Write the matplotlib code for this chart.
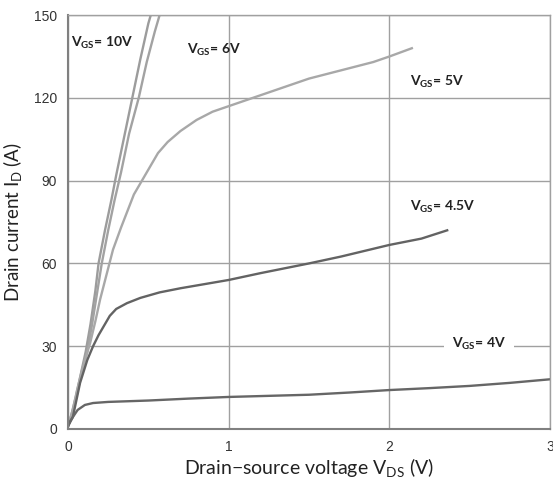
import matplotlib
matplotlib.use("Agg")
import matplotlib.pyplot as plt

plt.rcParams['font.family'] = ['Lato', 'DejaVu Sans']
plt.rcParams['mathtext.fontset'] = 'custom'
plt.rcParams['mathtext.rm'] = 'Lato'

# output characteristics
vds_10 = [0, 0.02, 0.05, 0.08, 0.11, 0.14, 0.17, 0.19, 0.23, 0.27, 0.30, 0.35, 0.40, 0.45, 0.50, 0.515]
id_10 = [1, 5, 12, 20, 28, 38, 50, 60, 72, 83, 92, 106, 120, 134, 147, 150]

vds_6 = [0, 0.02, 0.05, 0.08, 0.12, 0.15, 0.18, 0.21, 0.25, 0.29, 0.33, 0.38, 0.44, 0.49, 0.54, 0.57]
id_6 = [1, 4, 11, 19, 28, 38, 49, 60, 72, 83, 93, 107, 120, 133, 144, 150]

vds_5 = [0, 0.03, 0.056, 0.09, 0.137, 0.17, 0.2, 0.24, 0.28, 0.33, 0.37, 0.41, 0.45, 0.5,
         0.56, 0.62, 0.7, 0.8, 0.9, 1.0, 1.15, 1.3, 1.5, 1.7, 1.9, 2.0, 2.14]
id_5 = [1, 7, 14, 22, 31, 39, 47, 56, 65, 73, 79, 85, 89, 94,
        100, 104, 108, 112, 115, 117, 120, 123, 127, 130, 133, 135, 138]

vds_45 = [0, 0.03, 0.075, 0.12, 0.156, 0.19, 0.22, 0.26, 0.3, 0.367, 0.45, 0.57, 0.7, 0.85,
          1.0, 1.2, 1.5, 1.7, 2.0, 2.2, 2.36]
id_45 = [1, 4.3, 16.7, 25, 30, 34, 37, 41, 43.5, 45.6, 47.5, 49.5, 51, 52.5,
         54, 56.5, 60, 62.5, 66.7, 69, 72]

vds_4 = [0, 0.015, 0.03, 0.06, 0.105, 0.156, 0.25, 0.5, 0.75, 1.0, 1.25, 1.5, 1.75,
         2.0, 2.25, 2.5, 2.75, 3.0]
id_4 = [1, 3, 4.3, 6.9, 8.7, 9.4, 9.8, 10.3, 11, 11.6, 12, 12.4, 13.2,
        14.1, 14.8, 15.6, 16.7, 18]

x_ticks = [0, 1, 2, 3]
y_ticks = [0, 30, 60, 90, 120, 150]

fig = plt.figure(figsize=(5.53, 4.88), dpi=100)
ax = fig.add_axes([0.123, 0.121, 0.8716, 0.848])

ax.plot(vds_10, id_10, color='#9c9c9c', lw=1.7)
ax.plot(vds_6, id_6, color='#a2a2a2', lw=1.7)
ax.plot(vds_5, id_5, color='#a8a8a8', lw=1.7)
ax.plot(vds_45, id_45, color='#636363', lw=1.7)
ax.plot(vds_4, id_4, color='#666666', lw=1.7)

ax.set_xlim(0, 3)
ax.set_ylim(0, 150)
ax.set_xticks(x_ticks)
ax.set_yticks(y_ticks)
ax.grid(True, color='#a0a0a0', lw=1)
ax.set_axisbelow(True)
ax.tick_params(length=0, labelsize=10, labelcolor='#333333', pad=8)
for lbl in ax.get_xticklabels() + ax.get_yticklabels():
    lbl.set_fontfamily(['Liberation Sans', 'DejaVu Sans'])
for s in ['left', 'bottom']:
    ax.spines[s].set_color('#808080')
    ax.spines[s].set_linewidth(1.5)
for s in ['top', 'right']:
    ax.spines[s].set_color('#a0a0a0')
    ax.spines[s].set_linewidth(1)

ax.set_xlabel(r'Drain$-$source voltage V$_{\mathregular{DS}}$ (V)', fontsize=14, labelpad=2, color='#222222')
ax.set_ylabel(r'Drain current I$_{\mathregular{D}}$ (A)', fontsize=13.5, labelpad=6, color='#222222')

lab = dict(fontsize=10, fontweight='bold', color='#222222', va='center', ha='left')
ax.text(0.02, 139.9, r'V$_{\mathregular{GS}}$= 10V', **lab)
ax.text(0.74, 137.3, r'V$_{\mathregular{GS}}$= 6V', **lab)
ax.text(2.13, 125.7, r'V$_{\mathregular{GS}}$= 5V', **lab)
ax.text(2.13, 80.4, r'V$_{\mathregular{GS}}$= 4.5V', **lab)
ax.text(2.39, 30.8, r'V$_{\mathregular{GS}}$= 4V',
        bbox=dict(facecolor='white', edgecolor='none', pad=6), **lab)

fig.savefig('out.png', dpi=100)
